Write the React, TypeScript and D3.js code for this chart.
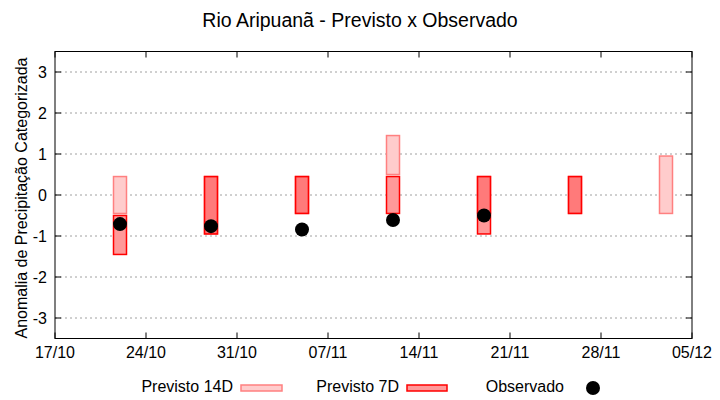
import React from "react";
import * as d3 from "d3";

// dates of each forecast / observation (week centres)
const dates = ["2023-10-22", "2023-10-29", "2023-11-05", "2023-11-12", "2023-11-19", "2023-11-26", "2023-12-03"];

// Previsto 14D: lower / upper limit of the category bar
const prev14Low = [-0.45, -0.95, -0.45, 0.5, -0.45, -0.45, -0.45];
const prev14High = [0.45, 0.45, 0.45, 1.45, 0.45, 0.45, 0.95];

// Previsto 7D (null = no forecast)
const prev7Low: (number | null)[] = [-1.45, -0.95, -0.45, -0.45, -0.95, -0.45, null];
const prev7High: (number | null)[] = [-0.5, 0.45, 0.45, 0.45, 0.45, 0.45, null];

// Observado
const observed: (number | null)[] = [-0.71, -0.76, -0.84, -0.61, -0.5, null, null];

const yTicks = [-3, -2, -1, 0, 1, 2, 3];
const legendLabels = ["Previsto 14D", "Previsto 7D", "Observado"];

const W = 720;
const H = 400;
const margin = { left: 55, right: 28, top: 51.5, bottom: 61.5 };
const font = "'Liberation Sans', Arial, sans-serif";

const parse = (s: string) => new Date(s + "T00:00:00Z");

export default function App() {
  const start = parse("2023-10-17");
  const end = parse("2023-12-05");

  const x = d3.scaleUtc().domain([start, end]).range([margin.left, W - margin.right]);
  const y = d3.scaleLinear().domain([-3.5, 3.5]).range([H - margin.bottom, margin.top]);

  const xTicks = d3.utcDay.range(start, d3.utcDay.offset(end, 1), 7);
  const fmt = d3.utcFormat("%d/%m");

  const x0 = margin.left;
  const x1 = W - margin.right;
  const y0 = margin.top;
  const y1 = H - margin.bottom;
  const tick = 6;

  const barX = (d: string) => x(d3.utcHour.offset(parse(d), -12));
  const barW = (d: string) => x(d3.utcHour.offset(parse(d), 12)) - barX(d);

  const bars14 = dates.map((d, i) => ({ d, lo: prev14Low[i], hi: prev14High[i] }));
  const bars7 = dates
    .map((d, i) => ({ d, lo: prev7Low[i], hi: prev7High[i] }))
    .filter((b) => b.lo !== null && b.hi !== null) as { d: string; lo: number; hi: number }[];
  const obs = dates
    .map((d, i) => ({ d, v: observed[i] }))
    .filter((o) => o.v !== null) as { d: string; v: number }[];

  return (
    <svg
      width={W}
      height={H}
      style={{ position: "absolute", left: 0, top: 0, background: "#fff" }}
      fontFamily={font}
    >
      <rect x={0} y={0} width={W} height={H} fill="#fff" />

      {/* title */}
      <text x={W / 2 + 0} y={27} textAnchor="middle" fontSize={19.5} fill="#000">
        Rio Aripuanã - Previsto x Observado
      </text>

      {/* grid */}
      {yTicks.map((t) => (
        <line
          key={"g" + t}
          x1={x0}
          x2={x1}
          y1={y(t)}
          y2={y(t)}
          stroke="#a0a0a0"
          strokeWidth={1}
          strokeDasharray="2,3"
        />
      ))}

      {/* white underlays so the grid does not show through */}
      {bars14.map((b) => (
        <rect key={"u14" + b.d} x={barX(b.d)} width={barW(b.d)} y={y(b.hi)} height={y(b.lo) - y(b.hi)} fill="#fff" />
      ))}
      {bars7.map((b) => (
        <rect key={"u7" + b.d} x={barX(b.d)} width={barW(b.d)} y={y(b.hi)} height={y(b.lo) - y(b.hi)} fill="#fff" />
      ))}

      {/* Previsto 14D */}
      {bars14.map((b) => (
        <rect
          key={"b14" + b.d}
          x={barX(b.d)}
          width={barW(b.d)}
          y={y(b.hi)}
          height={y(b.lo) - y(b.hi)}
          fill="rgba(255,0,0,0.2)"
          stroke="#ff8080"
          strokeWidth={1.5}
        />
      ))}

      {/* Previsto 7D */}
      {bars7.map((b) => (
        <rect
          key={"b7" + b.d}
          x={barX(b.d)}
          width={barW(b.d)}
          y={y(b.hi)}
          height={y(b.lo) - y(b.hi)}
          fill="rgba(255,0,0,0.4)"
          stroke="#ff0000"
          strokeWidth={1.5}
        />
      ))}

      {/* Observado */}
      {obs.map((o) => (
        <circle key={"o" + o.d} cx={x(parse(o.d))} cy={y(o.v)} r={7} fill="#000" />
      ))}

      {/* frame */}
      <rect x={x0} y={y0} width={x1 - x0} height={y1 - y0} fill="none" stroke="#000" strokeWidth={1} />

      {/* y ticks */}
      {yTicks.map((t) => (
        <g key={"yt" + t}>
          <line x1={x0} x2={x0 + tick} y1={y(t)} y2={y(t)} stroke="#000" />
          <line x1={x1} x2={x1 - tick} y1={y(t)} y2={y(t)} stroke="#000" />
          <text x={47} y={y(t) + 5.5} textAnchor="end" fontSize={16} fill="#000">
            {t}
          </text>
        </g>
      ))}

      {/* x ticks */}
      {xTicks.map((t) => (
        <g key={"xt" + t.getTime()}>
          <line x1={x(t)} x2={x(t)} y1={y1} y2={y1 - tick} stroke="#000" />
          <line x1={x(t)} x2={x(t)} y1={y0} y2={y0 + tick} stroke="#000" />
          <text x={x(t)} y={358} textAnchor="middle" fontSize={16} fill="#000">
            {fmt(t)}
          </text>
        </g>
      ))}

      {/* y label */}
      <text
        transform={`translate(27, ${(y0 + y1) / 2 + 3}) rotate(-90)`}
        textAnchor="middle"
        fontSize={16}
        fill="#000"
      >
        Anomalia de Precipitação Categorizada
      </text>

      {/* legend */}
      <g>
        <text x={233} y={392} textAnchor="end" fontSize={16} fill="#000">
          {legendLabels[0]}
        </text>
        <rect x={241} y={385} width={41} height={6} fill="#ffcccc" stroke="#ff8080" strokeWidth={1.5} />
        <text x={399} y={392} textAnchor="end" fontSize={16} fill="#000">
          {legendLabels[1]}
        </text>
        <rect x={407} y={385} width={40} height={6} fill="#ff9999" stroke="#ff0000" strokeWidth={1.5} />
        <text x={564} y={392} textAnchor="end" fontSize={16} fill="#000">
          {legendLabels[2]}
        </text>
        <circle cx={593} cy={388} r={7} fill="#000" />
      </g>
    </svg>
  );
}
